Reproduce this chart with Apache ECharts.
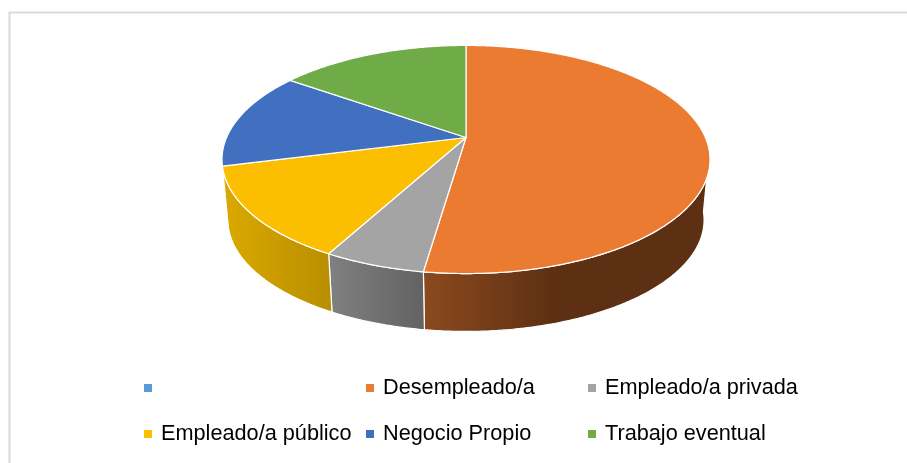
<!DOCTYPE html>
<html><head><meta charset="utf-8">
<style>html,body{margin:0;padding:0;background:#fff}#c{width:907px;height:463px}</style>
<script src="https://cdn.jsdelivr.net/npm/echarts@6/dist/echarts.min.js"></script>
</head><body><div id="c"></div>
<script>
const categories = [' ', 'Desempleado/a', 'Empleado/a privada', 'Empleado/a público', 'Negocio Propio', 'Trabajo eventual'];
const shares = [0, 52.3, 5.6, 13.1, 13.8, 15.2];
const colors = ['#5b9bd5', '#eb7b30', '#a4a4a4', '#fbbe00', '#4270c0', '#6fab47'];
const sideStops = [null,
  [[0,'#8b4a1e'],[0.45,'#5e3013'],[1,'#5e3013']],
  [[0,'#808080'],[1,'#626262']],
  [[0,'#dba900'],[1,'#b88e00']],
  null, null];
const legendSpots = [[144,377],[366,377],[588,377],[144,423],[366,423],[588,423]];

const topFace = {x0:466, y0:137.5, A:239.4, B:109.8, k:0.193};
const bottomFace = {x0:466, y0:198.6, A:233.6, B:107.2, k:0.193};
function project(f, a){
  const u = Math.sin(a), v = -Math.cos(a), w = 1 - f.k * v;
  return [f.x0 + f.A * u / w, f.y0 + f.B * v / w];
}
const total = shares.reduce((s,x)=>s+x,0);
const starts = []; shares.reduce((s,x,i)=>{starts[i]=s;return s+x;},0);
const toRad = p => p/total*2*Math.PI;
const sideMin = 97*Math.PI/180, sideMax = 263*Math.PI/180;

function arc(f,a1,a2){
  const n = Math.max(2,Math.ceil(Math.abs(a2-a1)/0.01)), out=[];
  for(let i=0;i<=n;i++) out.push(project(f,a1+(a2-a1)*i/n));
  return out;
}
function renderSlice(i){
  return function(){
    const children=[];
    if(shares[i]<=0) return {type:'group',children};
    const a1=toRad(starts[i]), a2=toRad(starts[i]+shares[i]);
    const s1=Math.max(a1,sideMin), s2=Math.min(a2,sideMax);
    if(s2>s1 && sideStops[i]){
      children.push({type:'polygon',z2:1,
        shape:{points:arc(topFace,s1,s2).concat(arc(bottomFace,s2,s1))},
        style:{fill:{type:'linear',x:0,y:0,x2:1,y2:0,
            colorStops:sideStops[i].map(s=>({offset:s[0],color:s[1]}))},
          stroke:'#ffffff',lineWidth:1.2,lineJoin:'round'}});
    }
    children.push({type:'polygon',z2:2,
      shape:{points:[[topFace.x0,topFace.y0]].concat(arc(topFace,a1,a2))},
      style:{fill:colors[i],stroke:'#ffffff',lineWidth:1.2,lineJoin:'round'}});
    return {type:'group',children};
  };
}
const chart = echarts.init(document.getElementById('c'),null,{renderer:'canvas'});
chart.setOption({
  animation:false,
  backgroundColor:'#fff',
  graphic:[{type:'rect',silent:true,z:-1,
    shape:{x:9.5,y:12.5,width:1000,height:1000},
    style:{fill:'none',stroke:'#d9d9d9',lineWidth:2}}],
  legend: categories.map((c,i)=>({
    left:legendSpots[i][0], top:legendSpots[i][1],
    data:[c], icon:'rect', itemWidth:8, itemHeight:8,
    padding:0, selectedMode:false,
    textStyle:{fontFamily:'"Liberation Sans"',fontSize:21.7,color:'#000',padding:[0,0,0,4]}
  })),
  series: categories.map((c,i)=>({
    type:'custom', name:c, coordinateSystem:'none',
    itemStyle:{color:colors[i]},
    silent:true,
    data:[[shares[i]]],
    renderItem:renderSlice(i)
  }))
});
</script></body></html>
